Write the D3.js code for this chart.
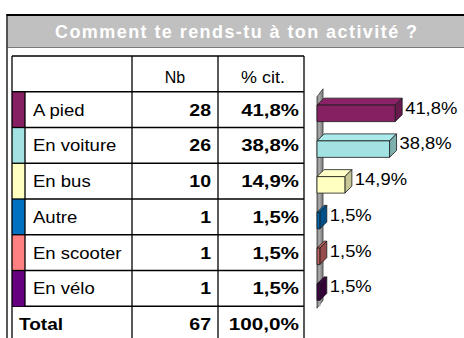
<!DOCTYPE html>
<html>
<head>
<meta charset="utf-8">
<script src="https://cdn.jsdelivr.net/npm/d3@7"></script>
<style>
  html, body { margin: 0; padding: 0; background: #fff; }
  svg { display: block; }
  text { font-family: "Liberation Sans", Arial, sans-serif; }
</style>
</head>
<body>
<svg id="chart" width="464" height="338"></svg>
<script>
// Survey: how do you get to your activity?
const title = "Comment te rends-tu à ton activité ?";
const categories = ["A pied", "En voiture", "En bus", "Autre", "En scooter", "En vélo"];
const counts = [28, 26, 10, 1, 1, 1];
const percents = [41.8, 38.8, 14.9, 1.5, 1.5, 1.5];
const swatchColors = ["#862063", "#A3E2E2", "#FFFFC0", "#0070C0", "#FF8080", "#660080"];
const barColors = ["#862063", "#A3E2E2", "#FFFFC0", "#0068B0", "#C06262", "#420046"];
const headers = ["Nb", "% cit."];
const totalLabel = "Total";
const totalCount = 67;
const totalPercent = 100.0;

const fmtPct = v => d3.format(".1f")(v).replace(".", ",") + "%";

const svg = d3.select("#chart");

// Outer frame and title band
svg.append("rect").attr("x", 7.5).attr("y", 16).attr("width", 470).attr("height", 31)
  .attr("fill", "#C0C0C0");
svg.append("line").attr("x1", 7.5).attr("x2", 470).attr("y1", 47.5).attr("y2", 47.5)
  .attr("stroke", "#7a7a7a").attr("stroke-width", 1.2);
svg.append("line").attr("x1", 6.5).attr("x2", 470).attr("y1", 15).attr("y2", 15)
  .attr("stroke", "#000").attr("stroke-width", 2);
svg.append("line").attr("x1", 7).attr("x2", 7).attr("y1", 14).attr("y2", 345)
  .attr("stroke", "#000").attr("stroke-width", 1.3);

svg.append("text")
  .attr("x", 236).attr("y", 37.5)
  .attr("text-anchor", "middle")
  .attr("fill", "#fff")
  .attr("font-weight", "bold")
  .attr("font-size", 18)
  .attr("textLength", 362)
  .attr("lengthAdjust", "spacing")
  .text(title);

// Table geometry
const rowKeys = ["__head", ...categories, "__total"];
const y = d3.scaleBand().domain(rowKeys).range([56, 342]).padding(0);
const colX = { left: 12, swatch: 25, nb: 132, pct: 218, right: 304 };

const table = svg.append("g");
const lineStyle = sel => sel.attr("stroke", "#000").attr("stroke-width", 1.3);

// horizontal rules
rowKeys.forEach(k => {
  table.append("line").call(lineStyle)
    .attr("x1", colX.left).attr("x2", colX.right)
    .attr("y1", y(k)).attr("y2", y(k));
});
table.append("line").call(lineStyle)
  .attr("x1", colX.left).attr("x2", colX.right)
  .attr("y1", y.range()[1]).attr("y2", y.range()[1]);

// swatches
table.selectAll("rect.sw").data(categories).join("rect")
  .attr("class", "sw")
  .attr("x", colX.left).attr("width", colX.swatch - colX.left)
  .attr("y", d => y(d)).attr("height", y.bandwidth())
  .attr("fill", (d, i) => swatchColors[i]);

// vertical rules
[colX.left, colX.nb, colX.pct, colX.right].forEach(x => {
  table.append("line").call(lineStyle)
    .attr("x1", x).attr("x2", x).attr("y1", y.range()[0]).attr("y2", y.range()[1]);
});
table.append("line").call(lineStyle)
  .attr("x1", colX.swatch).attr("x2", colX.swatch)
  .attr("y1", y(categories[0])).attr("y2", y("__total"));
// redraw row separators across swatches
categories.forEach(k => {
  table.append("line").call(lineStyle)
    .attr("x1", colX.left).attr("x2", colX.swatch)
    .attr("y1", y(k)).attr("y2", y(k));
});

const sx = 1.12;
function label(g, x, yy, txt, opts = {}) {
  return g.append("text")
    .attr("transform", `translate(${x},${yy}) scale(${opts.sx || sx},1)`)
    .attr("text-anchor", opts.anchor || "start")
    .attr("font-size", opts.size || 17)
    .attr("font-weight", opts.bold ? "bold" : "normal")
    .attr("fill", "#000")
    .text(txt);
}

// header
const hc = y("__head") + y.bandwidth() / 2;
label(table, (colX.nb + colX.pct) / 2, hc + 9, headers[0], { anchor: "middle", size: 16, sx: 1.0 });
label(table, (colX.pct + colX.right) / 2 + 2, hc + 9, headers[1], { anchor: "middle", size: 16, sx: 1.12 });

// body rows
categories.forEach((c, i) => {
  const cy = y(c) + y.bandwidth() / 2;
  label(table, 33, cy + 6, c, { size: 17, sx: 1.09 });
  label(table, colX.pct - 7, cy + 6, counts[i], { anchor: "end", bold: true, size: 17, sx: 1.15 });
  label(table, colX.right - 5, cy + 6, fmtPct(percents[i]), { anchor: "end", bold: true, size: 17, sx: 1.2 });
});

// total row
const tc = y("__total") + y.bandwidth() / 2;
label(table, 19, tc + 6, totalLabel, { bold: true, size: 17, sx: 1.12 });
label(table, colX.pct - 7, tc + 6, totalCount, { anchor: "end", bold: true, size: 17, sx: 1.15 });
label(table, colX.right - 5, tc + 6, fmtPct(totalPercent), { anchor: "end", bold: true, size: 17, sx: 1.22 });

// 3D bar chart
const x = d3.scaleLinear().domain([0, 50]).range([317, 410.5]);
const depth = 7;
const chart = svg.append("g");

// side wall
const wallTop = y(categories[0]) + 5;
const wallBottom = y(categories[categories.length - 1]) + y.bandwidth() + 2;
const x0 = x(0);
chart.append("polygon")
  .attr("points", [
    [x0, wallTop], [x0 + depth - 1, wallTop - depth - 1],
    [x0 + depth - 1, wallBottom - depth - 1], [x0, wallBottom]
  ].map(p => p.join(",")).join(" "))
  .attr("fill", "#8c8c8c").attr("stroke", "#333").attr("stroke-width", 0.8);
chart.append("line")
  .attr("x1", x0 + 2.5).attr("x2", x0 + 2.5).attr("y1", wallTop - 2).attr("y2", wallBottom - 2)
  .attr("stroke", "#a8a8a8").attr("stroke-width", 2);

categories.forEach((c, i) => {
  const cy = y(c) + y.bandwidth() / 2;
  const fy = cy - 4.5, h = 16.5;
  const x1 = x(percents[i]);
  const base = d3.color(barColors[i]);
  const side = base.darker(0.7);
  const top = base.brighter(0.1);
  const g = chart.append("g").attr("stroke", "#1a1a1a").attr("stroke-width", 0.8)
    .attr("stroke-linejoin", "round");
  g.append("polygon")
    .attr("points", [[x0, fy], [x0 + depth, fy - depth], [x1 + depth, fy - depth], [x1, fy]]
      .map(p => p.join(",")).join(" "))
    .attr("fill", top);
  g.append("polygon")
    .attr("points", [[x1, fy], [x1 + depth, fy - depth], [x1 + depth, fy + h - depth], [x1, fy + h]]
      .map(p => p.join(",")).join(" "))
    .attr("fill", side);
  g.append("rect")
    .attr("x", x0).attr("y", fy).attr("width", x1 - x0).attr("height", h)
    .attr("fill", base);

  label(chart, x1 + depth + 3, cy + 4, fmtPct(percents[i]), { size: 16, sx: 1.15 });
});
</script>
</body>
</html>
